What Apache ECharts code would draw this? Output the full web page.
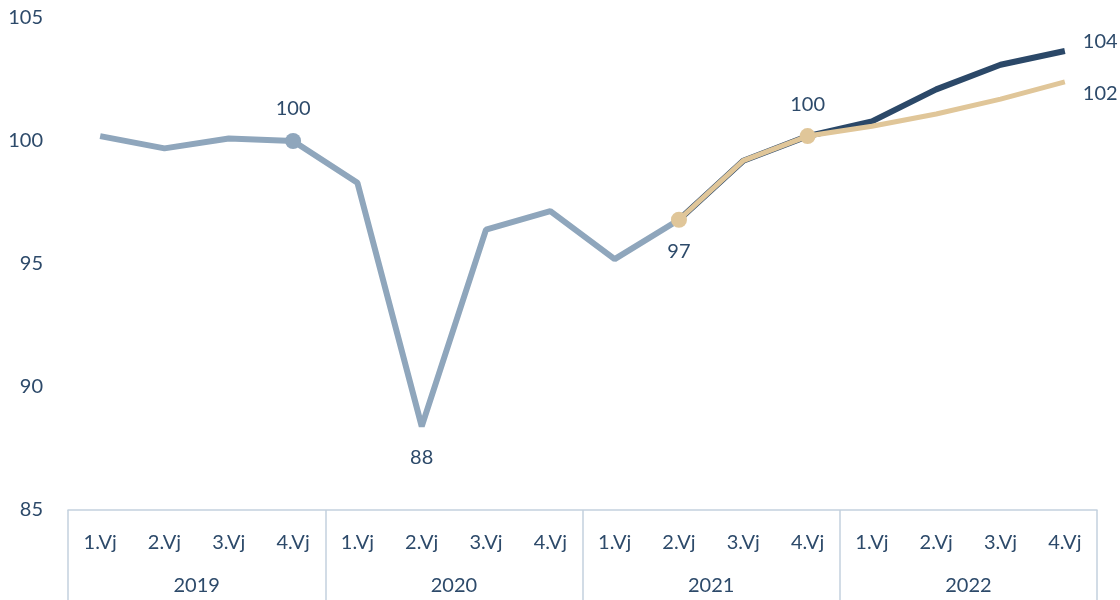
<!DOCTYPE html>
<html><head><meta charset="utf-8">
<script src="https://cdn.jsdelivr.net/npm/echarts@6/dist/echarts.min.js"></script>
<style>html,body{margin:0;padding:0;background:#fff}#c{width:1120px;height:600px}</style>
</head><body><div id="c"></div>
<script>
const quarters = ['1.Vj','2.Vj','3.Vj','4.Vj','1.Vj','2.Vj','3.Vj','4.Vj','1.Vj','2.Vj','3.Vj','4.Vj','1.Vj','2.Vj','3.Vj','4.Vj'];
const years = ['2019','2020','2021','2022'];
const actual = [100.2, 99.7, 100.1, 100.0, 98.3, 88.4, 96.4, 97.15, 95.2, 96.8, null, null, null, null, null, null];
const forecastLow = [null, null, null, null, null, null, null, null, null, 96.8, 99.2, 100.2, 100.6, 101.1, 101.7, 102.4];
const forecastHigh = [null, null, null, null, null, null, null, null, null, 96.8, 99.2, 100.2, 100.8, 102.1, 103.1, 103.66];
const yTicks = [85, 90, 95, 100, 105];

const txt = '#2d4a6a';
const font = 'Lato';
const fs = 20;
function lab(pos, text, dist, off){ return {show:true, position:pos, formatter:text, color:txt, fontSize:fs, fontFamily:font, distance:dist||14, offset:off||[0,0]}; }
function hidden(v, l){ return {value:v, symbol:'circle', symbolSize:2, itemStyle:{color:'rgba(0,0,0,0)', borderWidth:0}, label:l}; }

const greyData = actual.map((v,i)=>{
  if (v===null) return null;
  if (i===3) return {value:v, symbol:'circle', symbolSize:16, label:lab('top','100')};
  if (i===5) return hidden(v, lab('bottom','88', 20));
  return v;
});
const lowData = forecastLow.map((v,i)=>{
  if (v===null) return null;
  if (i===9) return {value:v, symbol:'circle', symbolSize:16, label:lab('bottom','97')};
  if (i===11) return {value:v, symbol:'circle', symbolSize:16, label:lab('top','100')};
  if (i===15) return hidden(v, lab('right','102', 17, [0,12]));
  return v;
});
const highData = forecastHigh.map((v,i)=>{
  if (v===null) return null;
  if (i===15) return hidden(v, lab('right','104', 17, [0,-9]));
  return v;
});

const chart = echarts.init(document.getElementById('c'));
chart.setOption({
  animation:false,
  grid:{left:68, right:23, top:18, bottom:90},
  xAxis:[
    {type:'category', data:quarters, position:'bottom', boundaryGap:true,
     axisLine:{show:false}, axisTick:{show:false},
     axisLabel:{color:txt, fontSize:fs, fontFamily:font, margin:23, interval:0}},
    {type:'category', data:years, position:'bottom', boundaryGap:true,
     axisLine:{show:true, lineStyle:{color:'#c3d1de', width:1.5}},
     axisTick:{show:true, length:90, lineStyle:{color:'#c3d1de', width:1.5}},
     axisLabel:{color:txt, fontSize:fs, fontFamily:font, margin:66, interval:0}}
  ],
  yAxis:{type:'value', min:85, max:105, interval:5,
    axisLine:{show:false}, axisTick:{show:false}, splitLine:{show:false},
    axisLabel:{color:txt, fontSize:fs, fontFamily:font, margin:25}},
  series:[
    {type:'line', data:greyData, xAxisIndex:0, symbol:'none', connectNulls:false,
     lineStyle:{color:'#8fa6bc', width:6}, itemStyle:{color:'#8fa6bc'}, z:2},
    {type:'line', data:highData, xAxisIndex:0, symbol:'none',
     lineStyle:{color:'#2b4868', width:6}, itemStyle:{color:'#2b4868'}, z:3},
    {type:'line', data:lowData, xAxisIndex:0, symbol:'none',
     lineStyle:{color:'#e0c699', width:5}, itemStyle:{color:'#e0c699'}, z:4}
  ]
});
</script></body></html>
